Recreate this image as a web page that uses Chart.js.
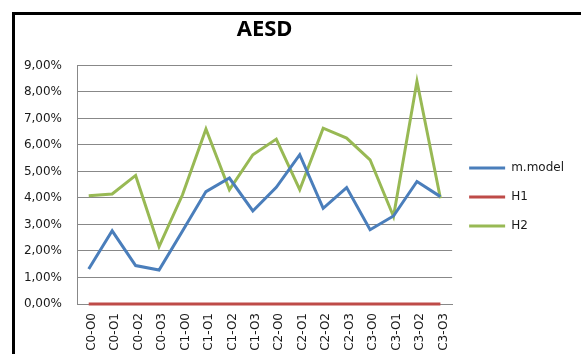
<!DOCTYPE html>
<html>
<head>
<meta charset="utf-8">
<title>AESD</title>
<script src="https://cdn.jsdelivr.net/npm/chart.js"></script>
<style>
  html, body { margin: 0; padding: 0; background: #fff; overflow: hidden; }
  .frame {
    position: absolute;
    left: 12px;
    top: 12px;
    border-left: 3px solid #000;
    border-top: 3px solid #000;
  }
  canvas { display: block; }
</style>
</head>
<body>
<div class="frame">
  <canvas id="myChart" width="566" height="364"></canvas>
</div>
<script>
// categories on the x axis
const categories = ['C0-O0', 'C0-O1', 'C0-O2', 'C0-O3',
                    'C1-O0', 'C1-O1', 'C1-O2', 'C1-O3',
                    'C2-O0', 'C2-O1', 'C2-O2', 'C2-O3',
                    'C3-O0', 'C3-O1', 'C3-O2', 'C3-O3'];

// series values, in percent
const mModel = [1.32, 2.76, 1.45, 1.28, 2.75, 4.24, 4.75, 3.51, 4.40, 5.63, 3.61, 4.39, 2.80, 3.32, 4.62, 4.05];
const h1     = [0, 0, 0, 0, 0, 0, 0, 0, 0, 0, 0, 0, 0, 0, 0, 0];
const h2     = [4.08, 4.15, 4.85, 2.16, 4.12, 6.60, 4.31, 5.63, 6.22, 4.31, 6.63, 6.26, 5.44, 3.30, 8.40, 3.99];

// y axis ticks: 0,00% .. 9,00%
const yMin = 0;
const yMax = 9;
const yStep = 1;

function pct(v) {
    return v.toFixed(2).replace('.', ',') + '%';
}

const labelFont = { family: "'DejaVu Sans', sans-serif", size: 12 };
const gridColor = '#888888';

const ctx = document.getElementById('myChart');
const myChart = new Chart(ctx, {
    type: 'line',
    data: {
        labels: categories,
        datasets: [
            { label: 'm.model', data: mModel, borderColor: '#4a7ebb', backgroundColor: '#4a7ebb', clip: 3 },
            { label: 'H1',      data: h1,     borderColor: '#be4b48', backgroundColor: '#be4b48', clip: 3 },
            { label: 'H2',      data: h2,     borderColor: '#98b954', backgroundColor: '#98b954', clip: 3 }
        ]
    },
    options: {
        responsive: false,
        animation: false,
        layout: { padding: { left: 0, right: 7, top: 0, bottom: 0 } },
        elements: {
            line: { borderWidth: 3, tension: 0, fill: false },
            point: { radius: 0, hoverRadius: 0 }
        },
        plugins: {
            title: {
                display: true,
                text: 'AESD',
                fullSize: false,
                color: '#000',
                font: { family: "'Noto Sans', sans-serif", size: 22, weight: 'bold' },
                padding: { top: 2, bottom: 22 }
            },
            legend: {
                position: 'right',
                align: 'center',
                labels: {
                    boxWidth: 36,
                    boxHeight: 0,
                    padding: 17,
                    color: '#1a1a1a',
                    font: labelFont
                }
            },
            tooltip: { enabled: false }
        },
        scales: {
            x: {
                offset: true,
                grid: { display: false, drawTicks: false },
                border: { display: true, color: gridColor, width: 1 },
                ticks: {
                    autoSkip: false,
                    minRotation: 90,
                    maxRotation: 90,
                    padding: 9,
                    labelOffset: 3,
                    color: '#1a1a1a',
                    font: labelFont
                },
                afterFit: function (scale) { scale.height = 75; }
            },
            y: {
                min: yMin,
                max: yMax,
                grid: { color: gridColor, lineWidth: 1, drawTicks: false },
                border: { display: true, color: gridColor, width: 1 },
                ticks: {
                    stepSize: yStep,
                    padding: 15,
                    color: '#1a1a1a',
                    font: labelFont,
                    callback: function (value) { return pct(value); }
                },
                afterFit: function (scale) { scale.width = 62; }
            }
        }
    }
});
</script>
</body>
</html>
